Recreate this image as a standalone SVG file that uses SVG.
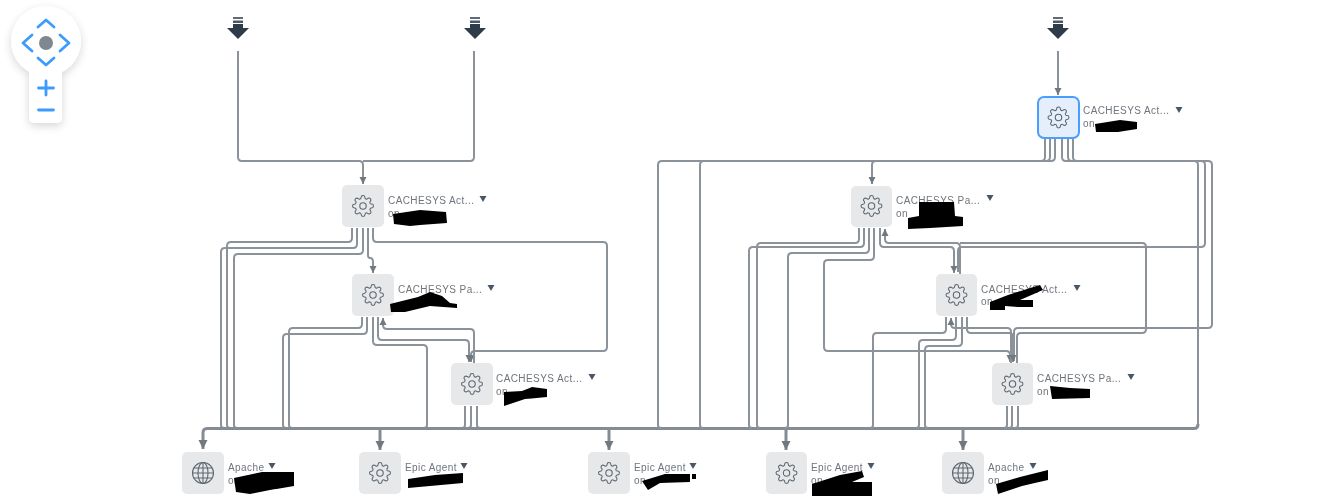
<svg xmlns="http://www.w3.org/2000/svg" width="1324" height="496" viewBox="0 0 1324 496">
<style>
.e{fill:none;stroke:#8b9299;stroke-width:2}
.t{fill:none;stroke:#858c94;stroke-width:3}
.box{fill:#e7e8ea}
.ic{fill:none;stroke:#5d6670;stroke-width:1.1}
.lb{font-family:"Liberation Sans",Arial,sans-serif;font-size:10px;fill:#6f757c;letter-spacing:.42px}
.car{fill:#4a5766}
.sc{fill:#000}
.ctl{fill:none;stroke:#3d9bff;stroke-width:2.800;stroke-linecap:round;stroke-linejoin:round}
.dl{fill:#2f3b4a}
</style>
<defs>
<filter id="soft" x="-5%" y="-5%" width="110%" height="110%"><feGaussianBlur stdDeviation="0.6"/></filter>
<filter id="sh" x="-40%" y="-30%" width="180%" height="170%"><feDropShadow dx="0" dy="3" stdDeviation="4" flood-color="#000" flood-opacity=".16"/></filter>
<marker id="a" markerUnits="userSpaceOnUse" markerWidth="8" markerHeight="8" refX="7" refY="4" orient="auto"><path d="M0 .5L7 4L0 7.5z" fill="#6f7880"/></marker>
<marker id="b" markerUnits="userSpaceOnUse" markerWidth="10" markerHeight="10" refX="9" refY="5" orient="auto"><path d="M0 .5L9 5L0 9.500z" fill="#6f7880"/></marker>
<g id="gear"><path transform="translate(-11.400 -11.400) scale(.95)" class="ic" d="M19.4 15a1.65 1.65 0 0 0 .33 1.82l.06.06a2 2 0 0 1 0 2.83 2 2 0 0 1-2.83 0l-.06-.06a1.65 1.65 0 0 0-1.82-.33 1.65 1.65 0 0 0-1 1.51V21a2 2 0 0 1-2 2 2 2 0 0 1-2-2v-.09A1.65 1.65 0 0 0 9 19.4a1.65 1.65 0 0 0-1.82.33l-.06.06a2 2 0 0 1-2.83 0 2 2 0 0 1 0-2.83l.06-.06a1.65 1.65 0 0 0 .33-1.82 1.65 1.65 0 0 0-1.51-1H3a2 2 0 0 1-2-2 2 2 0 0 1 2-2h.09A1.65 1.65 0 0 0 4.6 9a1.65 1.65 0 0 0-.33-1.82l-.06-.06a2 2 0 0 1 0-2.83 2 2 0 0 1 2.830 0l.06.06a1.65 1.65 0 0 0 1.82.33H9a1.65 1.65 0 0 0 1-1.51V3a2 2 0 0 1 2-2 2 2 0 0 1 2 2v.09a1.65 1.65 0 0 0 1 1.51 1.65 1.65 0 0 0 1.82-.33l.06-.06a2 2 0 0 1 2.83 0 2 2 0 0 1 0 2.83l-.06.06a1.65 1.65 0 0 0-.33 1.82V9a1.65 1.65 0 0 0 1.51 1H21a2 2 0 0 1 2 2 2 2 0 0 1-2 2h-.09a1.65 1.65 0 0 0-1.51 1z"/><circle r="3.200" class="ic"/></g>
<g id="globe"><circle r="10.500" class="ic"/><ellipse rx="5" ry="10.500" class="ic"/><path class="ic" d="M0-10.500V10.500M-10.500 0H10.500M-9.300-5H9.300M-9.300 5H9.300"/></g>
<g id="drop"><rect x="-5" y="0" width="10" height="2" class="dl" opacity=".75"/><rect x="-5" y="3.500" width="10" height="2.500" class="dl" opacity=".85"/><rect x="-5" y="7" width="10" height="5" class="dl"/><path d="M-11 11H11L0 22z" class="dl"/></g>
<path id="c" d="M-3.500-3H3.500L0 3z" class="car"/>
</defs>
<rect width="1324" height="496" fill="#fff"/>
<g filter="url(#soft)">
<g id="nav-control">
<g filter="url(#sh)"><circle cx="46" cy="41" r="35" fill="#fff"/><rect x="29" y="55" width="33" height="68" rx="5" fill="#fff"/></g>
<path class="ctl" d="M38 27L46 20L54 27M38 58L46 65L54 58M32 35L23 43L32 51M60 35L69 43L60 51M38.500 88H53.500M46 81V95M38.500 110H53.500"/>
<circle cx="46" cy="43" r="7" fill="#7f8890"/>
</g>
<g id="connectors">
<path class="e" d="M238 51V157Q238 161 242 161H359Q363 161 363 165V184" marker-end="url(#a)"/>
<path class="e" d="M474 51V157Q474 161 470 161H363"/>
<path class="e" d="M1058 51V95" marker-end="url(#a)"/>

<path class="e" d="M352 228V238Q352 242 348 242H231Q227 242 227 246V425q0 3 3 3"/>
<path class="e" d="M357 228V244Q357 248 353 248H225Q221 248 221 252V425q0 3 3 3"/>
<path class="e" d="M363 228V250Q363 254 359 254H238Q234 254 234 258V425q0 3 3 3"/>
<path class="e" d="M368 228V255Q368 258 370 258Q373 258 373 262V273" marker-end="url(#a)"/>
<path class="e" d="M373 228V238Q373 242 377 242H603Q607 242 607 246V347Q607 351 603 351H475Q471 351 471 355V362" marker-end="url(#a)"/>

<path class="e" d="M362 317V324Q362 328 358 328H293Q289 328 289 332V425q0 3 3 3"/>
<path class="e" d="M367 317V330Q367 334 363 334H287Q283 334 283 338V425q0 3 3 3"/>
<path class="e" d="M373 317V341Q373 345 377 345H423Q427 345 427 349V425q0 3-3 3"/>
<path class="e" d="M378 317V336Q378 340 382 340H465Q469 340 469 344V362" marker-end="url(#a)"/>
<path class="e" d="M474 363V333Q474 329 470 329H387Q383 329 383 325V318" marker-end="url(#a)"/>

<path class="e" d="M465 406V425q0 3-3 3"/>
<path class="e" d="M471 406V425q0 3-3 3"/>
<path class="e" d="M477 406V425q0 3 3 3"/>

<path class="t" d="M207 428.500H1194Q1198 428.500 1198 424"/>
<path class="t" d="M207 428.500Q203 428.500 203 433V449" marker-end="url(#b)"/>
<path class="t" d="M380 428.500V450" marker-end="url(#b)"/>
<path class="t" d="M609 428.500V450" marker-end="url(#b)"/>
<path class="t" d="M786 428.500V450" marker-end="url(#b)"/>
<path class="t" d="M963 428.500V450" marker-end="url(#b)"/>

<path class="e" d="M1045 139V157Q1045 161 1041 161H662Q658 161 658 165V425q0 3 3 3"/>
<path class="e" d="M1050 139V157Q1050 161 1046 161H704Q700 161 700 165V425q0 3 3 3"/>
<path class="e" d="M1055 139V157Q1055 161 1051 161H876Q872 161 872 165V184" marker-end="url(#a)"/>
<path class="e" d="M1062 139V157Q1062 161 1066 161H1194Q1198 161 1198 165V424"/>
<path class="e" d="M1068 139V157Q1068 161 1072 161H1201Q1205 161 1205 165V243Q1205 247 1201 247H962Q958 247 958 251V272"/>
<path class="e" d="M1073 139V157Q1073 161 1077 161H1208Q1212 161 1212 165V324Q1212 328 1208 328H1018Q1014 328 1014 332V361"/>

<path class="e" d="M859 228V239Q859 243 855 243H761Q757 243 757 247V425q0 3 3 3"/>
<path class="e" d="M864 228V243Q864 247 860 247H753Q749 247 749 251V425q0 3 3 3"/>
<path class="e" d="M869 228V249Q869 253 865 253H792Q788 253 788 257V425q0 3-3 3"/>
<path class="e" d="M874 228V256Q874 260 870 260H828Q824 260 824 264V347Q824 351 828 351H1006Q1010 351 1010 355V362" marker-end="url(#a)"/>
<path class="e" d="M880 228V243Q880 247 884 247H950Q954 247 954 251V273" marker-end="url(#a)"/>
<path class="e" d="M960 274V247Q960 243 956 243H889Q885 243 885 239V229" marker-end="url(#a)"/>
<path class="e" d="M1017 363V337Q1017 333 1021 333H1142Q1146 333 1146 329V247Q1146 243 1142 243H960"/>

<path class="e" d="M946 317V329Q946 333 942 333H877Q873 333 873 337V425q0 3-3 3"/>
<path class="e" d="M1011 363V332Q1011 328 1007 328H955Q951 328 951 324V318" marker-end="url(#a)"/>
<path class="e" d="M956 317V336Q956 340 952 340H923Q919 340 919 344V425q0 3-3 3"/>
<path class="e" d="M962 317V342Q962 346 958 346H929Q925 346 925 350V425q0 3 3 3"/>
<path class="e" d="M967 317V329Q967 333 971 333H1009Q1013 333 1013 337V362" marker-end="url(#a)"/>

<path class="e" d="M1007 406V425q0 3-3 3"/>
<path class="e" d="M1012 406V425q0 3-3 3"/>
<path class="e" d="M1018 406V425q0 3-3 3"/>
</g>
<g id="source-1"><use href="#drop" x="238" y="17"/></g>
<g id="source-2"><use href="#drop" x="475" y="17"/></g>
<g id="source-3"><use href="#drop" x="1058" y="17"/></g>

<g id="node-act-1"><rect class="box" x="342" y="185" width="42" height="42" rx="5"/><use href="#gear" x="363" y="206"/><text class="lb" x="388" y="204">CACHESYS Act...</text><use href="#c" x="483" y="199"/><text class="lb" x="388" y="217">on</text><path class="sc" d="M393 214L420 210L446 212L447 223L420 225L410 226L394 224z"/></g>
<g id="node-pa-1"><rect class="box" x="352" y="274" width="42" height="42" rx="5"/><use href="#gear" x="373" y="295"/><text class="lb" x="398" y="293">CACHESYS Pa...</text><use href="#c" x="491" y="288"/><path class="sc" d="M390 304L418 297L430 292L442 296L450 303L457 304L457 308L430 306L405 312L391 312z"/></g>
<g id="node-act-2"><rect class="box" x="451" y="363" width="42" height="42" rx="5"/><use href="#gear" x="472" y="384"/><text class="lb" x="496" y="382">CACHESYS Act...</text><use href="#c" x="592" y="377"/><text class="lb" x="496" y="395">on</text><path class="sc" d="M504 392L522 391L532 387L547 389L547 397L525 399L504 406z"/></g>
<g id="node-act-3"><rect x="1038" y="97" width="41" height="41" rx="6" fill="#e4effb" stroke="#4a9eff" stroke-width="2"/><use href="#gear" x="1058.500" y="117.500"/><text class="lb" x="1083" y="114">CACHESYS Act...</text><use href="#c" x="1179" y="110"/><text class="lb" x="1083" y="127">on</text><path class="sc" d="M1095 124L1120 120L1137 122L1137 129L1118 132L1096 132z"/></g>
<g id="node-pa-2"><rect class="box" x="851" y="186" width="41" height="41" rx="5"/><use href="#gear" x="871.500" y="206"/><text class="lb" x="896" y="204">CACHESYS Pa...</text><use href="#c" x="990" y="198"/><text class="lb" x="896" y="217">on</text><path class="sc" d="M919 202H954L955 216L963 217L963 226L930 228L908 229L908 218L919 216z"/></g>
<g id="node-act-4"><rect class="box" x="936" y="274" width="41" height="42" rx="5"/><use href="#gear" x="956.500" y="295"/><text class="lb" x="981" y="293">CACHESYS Act...</text><use href="#c" x="1077" y="288"/><text class="lb" x="981" y="305">on</text><path class="sc" d="M1008 295L1040 285L1043 290L1020 300L1033 300L1033 307L1018 307L1005 306L1005 310L990 310L990 302z"/></g>
<g id="node-pa-3"><rect class="box" x="992" y="363" width="41" height="42" rx="5"/><use href="#gear" x="1012.500" y="384"/><text class="lb" x="1037" y="382">CACHESYS Pa...</text><use href="#c" x="1131" y="377"/><text class="lb" x="1037" y="395">on</text><path class="sc" d="M1050 386L1070 388L1090 389V398L1052 399z"/></g>

<g id="node-apache-1"><rect class="box" x="182" y="452" width="42" height="42" rx="5"/><use href="#globe" x="203" y="473"/><text class="lb" x="228" y="471">Apache</text><use href="#c" x="272" y="466"/><text class="lb" x="228" y="484">on</text><path class="sc" d="M234 478L262 472L294 472L294 486L270 490L250 494L236 492z"/></g>
<g id="node-epic-1"><rect class="box" x="359" y="452" width="42" height="42" rx="5"/><use href="#gear" x="380" y="473"/><text class="lb" x="405" y="471">Epic Agent</text><use href="#c" x="464" y="466"/><path class="sc" d="M408 479L435 475L463 473V483L430 486L408 488z"/></g>
<g id="node-epic-2"><rect class="box" x="588" y="452" width="42" height="42" rx="5"/><use href="#gear" x="609" y="473"/><text class="lb" x="634" y="471">Epic Agent</text><use href="#c" x="693" y="466"/><text class="lb" x="634" y="484">on</text><path class="sc" d="M642 481L665 474L690 474V482L660 483L648 490z"/><rect class="sc" x="692" y="474" width="4" height="5"/></g>
<g id="node-epic-3"><rect class="box" x="766" y="452" width="41" height="42" rx="5"/><use href="#gear" x="786.500" y="473"/><text class="lb" x="811" y="471">Epic Agent</text><use href="#c" x="871" y="466"/><text class="lb" x="811" y="484">on</text><path class="sc" d="M812 484L840 475L862 471L864 477L852 482L872 482V496H812z"/></g>
<g id="node-apache-2"><rect class="box" x="942" y="452" width="42" height="42" rx="5"/><use href="#globe" x="963" y="473"/><text class="lb" x="988" y="471">Apache</text><use href="#c" x="1033" y="466"/><text class="lb" x="988" y="484">on</text><path class="sc" d="M996 484L1020 477L1048 470L1048 480L1022 486L998 494z"/></g>
</g>
</svg>
